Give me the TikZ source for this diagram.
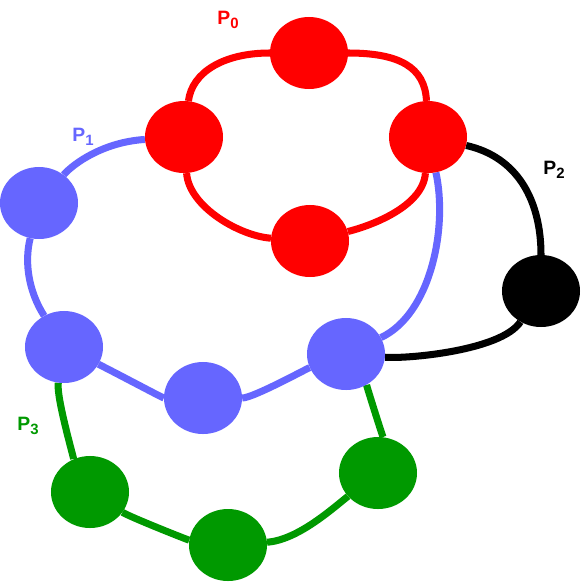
\documentclass[tikz,border=0pt]{standalone}
\usepackage{fontspec}
\setmainfont{Liberation Sans}
\usetikzlibrary{shapes,positioning,backgrounds}
\definecolor{pzero}{RGB}{255,0,0}
\definecolor{pone}{RGB}{102,102,255}
\definecolor{ptwo}{RGB}{0,0,0}
\definecolor{pthree}{RGB}{0,153,0}
\newcommand\plab[1]{P\raisebox{-0.2em}{\fontsize{17}{17}\selectfont #1}}

\begin{document}
\begin{tikzpicture}[x=0.04cm, y=-0.04cm,
  site/.style={ellipse, inner sep=0pt, minimum width=3.12cm, minimum height=2.88cm},
  link/.style={line width=8pt},
  plabel/.style={font=\fontsize{22}{26}\selectfont\bfseries}]
  \useasboundingbox (0,0) rectangle (581,582);

  % P0 (red)
  \node[site, fill=pzero] (r0) at (309,53) {};
  \node[site, fill=pzero] (r1) at (184,137) {};
  \node[site, fill=pzero] (r2) at (428,137) {};
  \node[site, fill=pzero] (r3) at (310,241) {};

  % P1 (blue)
  \node[site, fill=pone] (b1) at (39,203) {};
  \node[site, fill=pone] (b2) at (64,347) {};
  \node[site, fill=pone] (b3) at (203,398) {};
  \node[site, fill=pone] (b4) at (346,354) {};

  % P2 (black)
  \node[site, fill=ptwo] (k1) at (541,291) {};

  % P3 (green)
  \node[site, fill=pthree] (g1) at (90,492) {};
  \node[site, fill=pthree] (g2) at (228,545) {};
  \node[site, fill=pthree] (g3) at (378,473) {};

  % Labels
  \node[plabel, text=pzero] (lzero) at (228,20) {\plab{0}};
  \node[plabel, text=pone] (lone) at (83,137) {\plab{1}};
  \node[plabel, text=ptwo] (ltwo) at (554,170) {\plab{2}};
  \node[plabel, text=pthree] (lthree) at (28,426) {\plab{3}};

  \begin{scope}[on background layer]
    % P0 ring
    \draw[link, pzero] (r0) .. controls +(90,0) and +(-3,-70) .. (r2);
    \draw[link, pzero] (r0) .. controls +(-85,0) and +(8,-65) .. (r1);
    \draw[link, pzero] (r1) .. controls +(5,70) and +(-70,-5) .. (r3);
    \draw[link, pzero] (r2) .. controls +(-5,70) and +(60,-15) .. (r3);

    % P1 ring
    \draw[link, pone] (r1) .. controls +(-80,5) and +(35,-40) .. (b1);
    \draw[link, pone] (b1) .. controls +(-15,60) and +(-35,-55) .. (b2);
    \draw[link, pone] (b2) .. controls +(50,25) and +(-40,0) .. (b3);
    \draw[link, pone] (b3) .. controls +(50,0) and +(-40,15) .. (b4);
    \draw[link, pone] (b4) .. controls +(85,-40) and +(20,90) .. (r2);

    % P2 ring
    \draw[link, ptwo] (r2) .. controls +(90,20) and +(0,-90) .. (k1);
    \draw[link, ptwo] (k1) .. controls +(-40,60) and +(60,5) .. (b4);

    % P3 ring
    \draw[link, pthree] (b2) .. controls +(-8,50) and +(-15,-30) .. (g1);
    \draw[link, pthree] (g1) .. controls +(40,25) and +(-40,-5) .. (g2);
    \draw[link, pthree] (g2) .. controls +(70,-5) and +(-45,35) .. (g3);
    \draw[link, pthree] (g3) .. controls +(5,-35) and +(20,30) .. (b4);
  \end{scope}
\end{tikzpicture}
\end{document}
